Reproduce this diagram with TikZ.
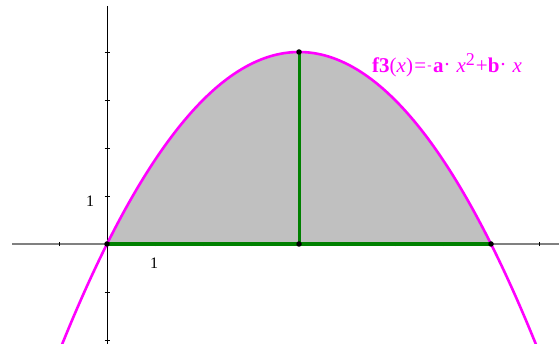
\documentclass[tikz,border=0pt]{standalone}
\usepackage{fontspec}
\setmainfont{Liberation Serif}
\definecolor{fmag}{HTML}{FF00FF}
\definecolor{fgreen}{HTML}{008000}
\definecolor{fgray}{HTML}{C0C0C0}
\definecolor{axgray}{HTML}{808080}
\begin{document}
\begin{tikzpicture}[x=1pt,y=1pt,
  xaxis/.style={draw=axgray,line width=1.8pt},
  yaxis/.style={draw=black,line width=1pt},
  tickmark/.style={draw=black,line width=0.9pt},
  curve/.style={draw=fmag,line width=2.6pt},
  segline/.style={draw=fgreen},
  dot/.style={circle,fill=black,inner sep=0pt,minimum size=5.5pt},
  numlabel/.style={font=\fontsize{16}{16}\selectfont,inner sep=0pt}]
\useasboundingbox (0,0) rectangle (559,344);
\begin{scope}
\clip (0,0) rectangle (559,344);
% fill
\fill[fgray] plot[domain=0:8,samples=80,smooth] ({107+48*\x},{100+48*(-0.25*\x*\x+2*\x)}) -- cycle;
% axes
\coordinate (xl) at (12,100);
\coordinate (xr) at (559,100);
\coordinate (yt) at (107,338);
\coordinate (yb) at (107,0);
\draw[xaxis] (xl) -- (xr);
\foreach \k in {-1,...,9} \draw[tickmark] ({107+48*\k},97.8) -- ({107+48*\k},102.2);
\draw[yaxis] (yt) -- (yb);
\foreach \k in {-2,...,4} \draw[tickmark] (104.5,{100+48*\k}) -- (109.5,{100+48*\k});
% curve
\draw[curve] plot[domain=-0.96:8.96,samples=120,smooth] ({107+48*\x},{100+48*(-0.25*\x*\x+2*\x)});
% points
\coordinate (O) at (107,100);
\coordinate (M) at (299,100);
\coordinate (R) at (491,100);
\coordinate (T) at (299,292);
\draw[segline,line width=4pt] (O) -- (R);
\draw[segline,line width=3pt] (M) -- (T);
\node[dot] (dO) at (O) {};
\node[dot] (dM) at (M) {};
\node[dot] (dR) at (R) {};
\node[dot] (dT) at (T) {};
\end{scope}
\node[numlabel] (ly) at (90,143) {1};
\node[numlabel] (lx) at (154,81) {1};
\node[anchor=base west,inner sep=0pt,text=fmag,font=\fontsize{21}{21}\selectfont] (flabel) at (372,271)
 {\textbf{f3}(\textit{x})\kern1.5pt=\kern1pt\raisebox{0.4ex}{\fontsize{13}{13}\selectfont -}\kern1.5pt\textbf{a}\raisebox{0.12ex}{·}\kern6pt\textit{x}\raisebox{0.75ex}{\fontsize{18}{18}\selectfont 2}\kern1pt+\textbf{b}\raisebox{0.12ex}{·}\kern6pt\textit{x}};
\end{tikzpicture}
\end{document}
